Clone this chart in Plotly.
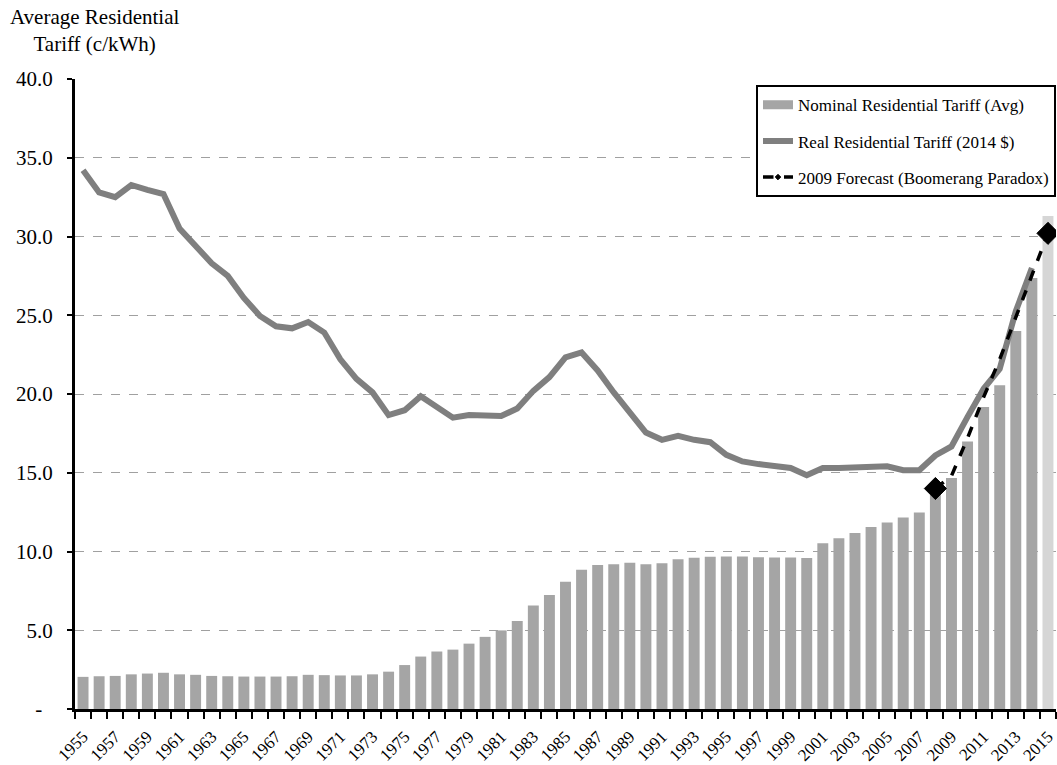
import plotly.graph_objects as go

# -------------------------------
# Data
# -------------------------------
years = list(range(1955, 2016))

nominal_tariff = [
    2.04, 2.08, 2.10, 2.20, 2.25, 2.30, 2.20, 2.17, 2.10, 2.08,
    2.06, 2.06, 2.06, 2.08, 2.17, 2.15, 2.13, 2.13, 2.20, 2.37,
    2.79, 3.33, 3.65, 3.77, 4.15, 4.58, 4.99, 5.58, 6.57, 7.24,
    8.08, 8.84, 9.14, 9.19, 9.29, 9.19, 9.25, 9.51, 9.61, 9.66,
    9.68, 9.68, 9.64, 9.62, 9.62, 9.58, 10.52, 10.84, 11.17, 11.55,
    11.84, 12.16, 12.47, 13.60, 14.67, 16.98, 19.18, 20.55, 24.00, 27.36,
    31.30,
]

real_tariff = [
    34.20, 32.80, 32.50, 33.27, 32.96, 32.70, 30.50, 29.45, 28.30, 27.50,
    26.10, 24.95, 24.30, 24.17, 24.57, 23.90, 22.20, 20.96, 20.10, 18.66,
    18.97, 19.86, 19.20, 18.50, 18.66, 18.64, 18.60, 19.08, 20.20, 21.07,
    22.33, 22.64, 21.50, 20.10, 18.87, 17.55, 17.09, 17.34, 17.09, 16.94,
    16.14, 15.72, 15.55, 15.41, 15.30, 14.84, 15.30, 15.30, 15.36, 15.41,
    15.41, 15.16, 15.16, 16.10, 16.67, 18.55, 20.33, 21.60, 25.26, 28.00,
    None,
]

forecast_years = [2008, 2009, 2010, 2011, 2012, 2013, 2014, 2015]
forecast_values = [14.0, 14.8, 17.2, 19.8, 22.2, 24.9, 27.6, 30.2]

y_tick_vals = [0, 5, 10, 15, 20, 25, 30, 35, 40]
y_tick_text = ["-\u00a0\u00a0", "5.0", "10.0", "15.0", "20.0", "25.0", "30.0", "35.0", "40.0"]
x_tick_vals = list(range(1955, 2016, 2))

# last (2015) bar is drawn lighter
bar_colors = ["#a5a5a5"] * (len(years) - 1) + ["#d6d6d6"]
forecast_marker_sizes = [17] + [0] * (len(forecast_years) - 2) + [17]

font_family = "Liberation Serif, Times New Roman, serif"

# -------------------------------
# Build figure
# -------------------------------
fig = go.Figure()

fig.add_trace(go.Bar(
    x=years, y=nominal_tariff,
    name="Nominal Residential Tariff (Avg)",
    marker=dict(color=bar_colors, line=dict(width=0)),
    showlegend=False,
))

# legend stand-in so the bar swatch is a wide flat block like the original
fig.add_trace(go.Scatter(
    x=[None], y=[None], mode="lines",
    name="Nominal Residential Tariff (Avg)",
    line=dict(color="#a5a5a5", width=9),
    legendgroup="a",
))

fig.add_trace(go.Scatter(
    x=years, y=real_tariff,
    mode="lines",
    name="Real Residential Tariff (2014 $)",
    line=dict(color="#7f7f7f", width=6),
    legendgroup="b",
))

fig.add_trace(go.Scatter(
    x=forecast_years, y=forecast_values,
    mode="lines+markers",
    name="2009 Forecast (Boomerang Paradox)",
    line=dict(color="black", width=3.5, dash="dash"),
    marker=dict(symbol="diamond", color="#000000", opacity=1,
                size=forecast_marker_sizes,
                line=dict(width=1, color="#000000")),
    legendgroup="c",
))

fig.update_layout(
    width=1057, height=765,
    margin=dict(l=75, r=0, t=79, b=50),
    plot_bgcolor="white", paper_bgcolor="white",
    font=dict(family=font_family, color="black", size=16),
    bargap=0.32,
    showlegend=True,
    legend=dict(
        x=1, xanchor="right", y=0.99, yanchor="top",
        bordercolor="black", borderwidth=2, bgcolor="white",
        font=dict(size=17, family=font_family),
        traceorder="grouped", tracegroupgap=11,
    ),
)

fig.update_xaxes(
    range=[1954.5, 2015.5],
    tickvals=x_tick_vals,
    ticktext=[str(y) for y in x_tick_vals],
    tickangle=-45,
    ticks="", ticklen=0,
    ticklabelstandoff=8,
    ticklabeloverflow="allow",
    tickfont=dict(size=17),
    minor=dict(ticks="outside", tick0=1954.5, dtick=1, ticklen=7,
               tickwidth=2, tickcolor="black", showgrid=False),
    showline=True, linecolor="black", linewidth=3,
    showgrid=False, zeroline=False,
)

fig.update_yaxes(
    range=[0, 40],
    tickvals=y_tick_vals,
    ticktext=y_tick_text,
    ticks="outside", ticklen=5, tickwidth=2, tickcolor="black",
    ticklabelstandoff=10,
    tickfont=dict(size=21),
    showline=True, linecolor="black", linewidth=3,
    showgrid=True, gridcolor="#a0a0a0", griddash="dash", gridwidth=1,
    zeroline=False,
)

fig.add_annotation(
    text="Average Residential<br>Tariff (c/kWh)",
    xref="paper", yref="paper", x=-0.068, y=1.12,
    xanchor="left", yanchor="top", align="center",
    showarrow=False, font=dict(size=21, family=font_family),
)

# drop the default page margin so the figure fills the window exactly
fig.write_html(
    "out.html",
    config={"displayModeBar": False},
    post_script="document.body.style.margin='0';document.body.style.overflow='hidden';",
)
